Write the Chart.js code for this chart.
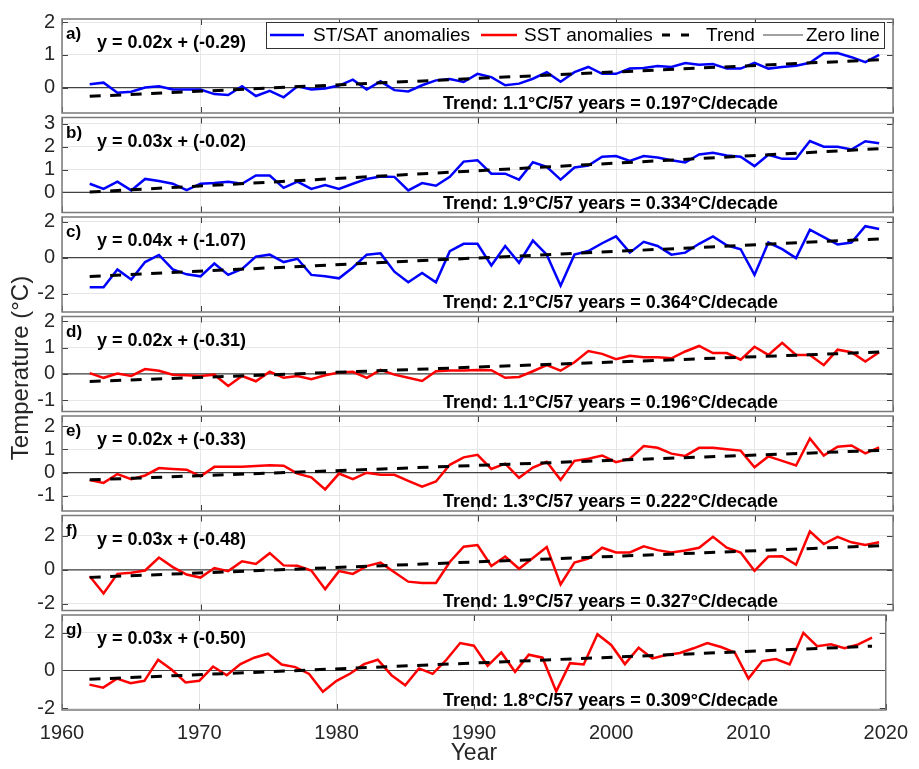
<!DOCTYPE html>
<html>
<head>
<meta charset="utf-8">
<title>Temperature anomalies</title>
<script src="https://cdn.jsdelivr.net/npm/chart.js@4.4.1/dist/chart.umd.min.js"></script>
<style>
  html, body { margin: 0; padding: 0; background: #ffffff; }
  #figure { position: relative; width: 919px; height: 769px; overflow: hidden; }
  #figure canvas { position: absolute; left: 0; top: 0; }
</style>
</head>
<body>
<div id="figure"></div>
<script>
// ---- data -------------------------------------------------------------
const years = [1962,1963,1964,1965,1966,1967,1968,1969,1970,1971,
               1972,1973,1974,1975,1976,1977,1978,1979,1980,1981,
               1982,1983,1984,1985,1986,1987,1988,1989,1990,1991,
               1992,1993,1994,1995,1996,1997,1998,1999,2000,2001,
               2002,2003,2004,2005,2006,2007,2008,2009,2010,2011,
               2012,2013,2014,2015,2016,2017,2018,2019];

// ST/SAT anomalies (panels a-c)
const seriesA = [0.10,0.15,-0.16,-0.13,0.00,0.04,-0.06,-0.06,-0.06,-0.20,
                 -0.23,0.04,-0.26,-0.10,-0.30,0.04,-0.06,-0.03,0.06,0.24,
                 -0.06,0.19,-0.08,-0.12,0.07,0.22,0.26,0.17,0.42,0.32,
                 0.07,0.12,0.27,0.47,0.18,0.47,0.63,0.42,0.42,0.58,
                 0.60,0.66,0.63,0.75,0.70,0.72,0.58,0.58,0.76,0.58,
                 0.63,0.67,0.76,1.05,1.06,0.93,0.78,1.00];
const seriesB = [0.38,0.15,0.47,0.09,0.59,0.50,0.38,0.10,0.38,0.41,
                 0.47,0.38,0.74,0.74,0.20,0.47,0.15,0.32,0.15,0.38,
                 0.59,0.70,0.68,0.09,0.41,0.29,0.68,1.35,1.41,0.82,
                 0.82,0.56,1.32,1.12,0.56,1.09,1.18,1.56,1.59,1.38,
                 1.59,1.53,1.41,1.31,1.66,1.74,1.62,1.56,1.15,1.65,
                 1.47,1.47,2.25,2.00,2.00,1.88,2.24,2.15];
const seriesC = [-1.63,-1.63,-0.65,-1.21,-0.24,0.15,-0.65,-0.92,-1.03,-0.32,
                 -0.95,-0.62,0.06,0.17,-0.24,-0.06,-0.95,-1.03,-1.14,-0.54,
                 0.17,0.24,-0.77,-1.36,-0.84,-1.36,0.36,0.77,0.77,-0.43,
                 0.65,-0.28,0.95,0.17,-1.55,0.17,0.37,0.80,1.18,0.28,
                 0.88,0.65,0.17,0.28,0.77,1.18,0.69,0.47,-0.95,0.84,
                 0.47,-0.02,1.55,1.14,0.73,0.84,1.74,1.59];
// SST anomalies (panels d-g)
const seriesD = [0.03,-0.15,0.01,-0.08,0.18,0.12,-0.03,-0.05,-0.08,-0.03,
                 -0.46,-0.08,-0.28,0.08,-0.15,-0.08,-0.20,-0.05,0.05,0.08,
                 -0.15,0.15,-0.03,-0.15,-0.27,0.10,0.13,0.13,0.15,0.14,
                 -0.15,-0.12,0.10,0.33,0.12,0.44,0.87,0.76,0.56,0.69,
                 0.63,0.63,0.59,0.85,1.06,0.79,0.79,0.54,1.03,0.72,
                 1.18,0.72,0.72,0.33,0.92,0.82,0.47,0.82];
const seriesE = [-0.32,-0.44,-0.06,-0.28,-0.12,0.20,0.16,0.13,-0.16,0.25,
                 0.25,0.25,0.29,0.32,0.30,-0.04,-0.20,-0.72,-0.04,-0.28,
                 0.00,-0.09,-0.09,-0.35,-0.60,-0.38,0.34,0.66,0.77,0.16,
                 0.39,-0.22,0.22,0.47,-0.31,0.51,0.60,0.74,0.45,0.60,
                 1.15,1.07,0.82,0.72,1.07,1.07,1.01,0.95,0.23,0.70,
                 0.51,0.31,1.47,0.74,1.12,1.17,0.83,1.09];
const seriesF = [-0.38,-1.40,-0.24,-0.18,-0.04,0.72,0.16,-0.28,-0.46,0.10,
                 -0.08,0.50,0.34,0.98,0.26,0.24,-0.04,-1.14,-0.08,-0.24,
                 0.22,0.42,-0.14,-0.70,-0.78,-0.78,0.46,1.36,1.46,0.22,
                 0.78,0.06,0.70,1.34,-0.86,0.42,0.66,1.30,1.02,1.02,
                 1.38,1.16,1.02,1.14,1.30,1.94,1.30,1.02,-0.06,0.78,
                 0.80,0.30,2.26,1.52,1.94,1.62,1.46,1.62];
const seriesG = [-0.75,-0.91,-0.43,-0.68,-0.55,0.57,0.04,-0.64,-0.55,0.21,
                 -0.25,0.34,0.68,0.89,0.32,0.18,-0.18,-1.13,-0.55,-0.16,
                 0.34,0.57,-0.25,-0.79,0.11,-0.18,0.57,1.46,1.32,0.25,
                 0.96,-0.07,0.84,0.68,-1.11,0.39,0.32,1.93,1.36,0.34,
                 1.21,0.64,0.82,0.93,1.18,1.46,1.25,0.96,-0.43,0.50,
                 0.61,0.32,2.00,1.29,1.39,1.18,1.39,1.75];

// linear fits: y = slope * x + intercept, x = 1 for the first year
const trendPerDecade = [0.197, 0.334, 0.364, 0.196, 0.222, 0.327, 0.309];
const trendIntercept = [-0.29, -0.02, -1.07, -0.31, -0.33, -0.48, -0.50];
const slopeLabel     = ['0.02', '0.03', '0.04', '0.02', '0.02', '0.03', '0.03'];
const totalChange    = [1.1, 1.9, 2.1, 1.1, 1.3, 1.9, 1.8];

const panelLetters = ['a)', 'b)', 'c)', 'd)', 'e)', 'f)', 'g)'];
const yMinValues = [-0.78, -0.88, -3.0, -1.43, -1.65, -2.4, -2.1];
const yMaxValues = [2.1, 3.28, 2.25, 2.18, 2.44, 3.2, 2.95];
const yTickValues = [[0,1,2], [0,1,2,3], [-2,0,2], [-1,0,1,2], [-1,0,1,2], [-2,0,2], [-2,0,2]];
const xTickValues = [1960, 1970, 1980, 1990, 2000, 2010, 2020];

// ---- layout & style ---------------------------------------------------
const W = 919, H = 769;
const PLOT_LEFT = 62, PLOT_RIGHT = 893;
const FIRST_TOP = 18, PANEL_STEP = 99.5, PANEL_H = 95;
const FONT = "'Liberation Sans', Arial, Helvetica, sans-serif";
const BLUE = '#0000ff', RED = '#ff0000';
const TEXT = '#262626';

const allSeries = [seriesA, seriesB, seriesC, seriesD, seriesE, seriesF, seriesG];
const seriesColor = [BLUE, BLUE, BLUE, RED, RED, RED, RED];

const figure = document.getElementById('figure');
const yearSpan = years[years.length - 1] - years[0];

function trendPoints(i) {
  const slope = trendPerDecade[i] / 10;
  const ends = [years[0], years[years.length - 1]];
  return ends.map(yr => ({ x: yr, y: slope * (yr - years[0] + 1) + trendIntercept[i] }));
}

function drawLegend(ctx) {
  const left = 266, right = 884, top = 22, bottom = 48, mid = (top + bottom) / 2;
  ctx.save();
  ctx.fillStyle = '#ffffff';
  ctx.fillRect(left, top, right - left, bottom - top);
  ctx.strokeStyle = '#333333';
  ctx.lineWidth = 1;
  ctx.strokeRect(left + 0.5, top + 0.5, right - left, bottom - top);
  const sample = (x0, x1, color, width, dash) => {
    ctx.beginPath();
    ctx.setLineDash(dash || []);
    ctx.strokeStyle = color;
    ctx.lineWidth = width;
    ctx.moveTo(x0, mid); ctx.lineTo(x1, mid);
    ctx.stroke();
    ctx.setLineDash([]);
  };
  sample(270, 304, BLUE, 2.5);
  sample(481, 517, RED, 2.5);
  sample(662, 692, '#000000', 3, [8, 11]);
  sample(763, 803, '#808080', 1.5);
  ctx.fillStyle = '#000000';
  ctx.font = '19px ' + FONT;
  ctx.textBaseline = 'middle';
  ctx.textAlign = 'left';
  ctx.fillText('ST/SAT anomalies', 313, mid + 1);
  ctx.fillText('SST anomalies', 524, mid + 1);
  ctx.fillText('Trend', 706, mid + 1);
  ctx.fillText('Zero line', 806, mid + 1);
  ctx.restore();
}

function makePanel(i) {
  const isLast = i === allSeries.length - 1;
  const top = FIRST_TOP + PANEL_STEP * i;
  const bottom = top + PANEL_H;

  const canvas = document.createElement('canvas');
  canvas.width = W; canvas.height = H;
  canvas.style.width = W + 'px'; canvas.style.height = H + 'px';
  figure.appendChild(canvas);

  const decorations = {
    id: 'panelDecorations' + i,
    afterDatasetsDraw(chart) {
      const { ctx, chartArea: a, scales } = chart;
      ctx.save();
      // inward tick marks
      ctx.strokeStyle = '#404040';
      ctx.lineWidth = 1;
      ctx.beginPath();
      scales.y.ticks.forEach(t => {
        const y = Math.round(scales.y.getPixelForValue(t.value)) + 0.5;
        ctx.moveTo(a.left, y); ctx.lineTo(a.left + 6, y);
        ctx.moveTo(a.right, y); ctx.lineTo(a.right - 6, y);
      });
      scales.x.ticks.forEach(t => {
        const x = Math.round(scales.x.getPixelForValue(t.value)) + 0.5;
        ctx.moveTo(x, a.top); ctx.lineTo(x, a.top + 6);
        ctx.moveTo(x, a.bottom); ctx.lineTo(x, a.bottom - 6);
      });
      ctx.stroke();
      // axes box
      ctx.strokeStyle = '#7a7a7a';
      ctx.lineWidth = 1.5;
      ctx.strokeRect(a.left, a.top, a.right - a.left, a.bottom - a.top);
      ctx.restore();
    },
    afterDraw(chart) {
      const { ctx, chartArea: a } = chart;
      ctx.save();
      ctx.fillStyle = '#000000';
      ctx.textAlign = 'left';
      ctx.textBaseline = 'alphabetic';
      ctx.font = 'bold 17px ' + FONT;
      ctx.fillText(panelLetters[i], a.left + 4, a.top + 20);
      ctx.font = 'bold 18px ' + FONT;
      ctx.fillText('y = ' + slopeLabel[i] + 'x + (' + trendIntercept[i].toFixed(2) + ')', 97, a.top + 29);
      ctx.fillText('Trend: ' + totalChange[i].toFixed(1) + '\u00B0C/' + yearSpan + ' years = ' +
                   trendPerDecade[i].toFixed(3) + '\u00B0C/decade', 443, a.bottom - 4);
      if (i === 0) drawLegend(ctx);
      if (isLast) {
        // shared y-axis title
        ctx.translate(21, 368);
        ctx.rotate(-Math.PI / 2);
        ctx.textAlign = 'center';
        ctx.textBaseline = 'middle';
        ctx.fillStyle = TEXT;
        ctx.font = '24px ' + FONT;
        ctx.fillText('Temperature (\u00B0C)', 0, 0);
      }
      ctx.restore();
    }
  };

  return new Chart(canvas, {
    type: 'line',
    data: {
      datasets: [
        {
          label: i < 3 ? 'ST/SAT anomalies' : 'SST anomalies',
          data: years.map((yr, k) => ({ x: yr, y: allSeries[i][k] })),
          borderColor: seriesColor[i],
          borderWidth: 2.5,
          pointRadius: 0,
          tension: 0,
          order: 2
        },
        {
          label: 'Trend',
          data: trendPoints(i),
          borderColor: '#000000',
          borderWidth: 3,
          borderDash: [11, 9.5],
          pointRadius: 0,
          order: 1
        },
        {
          label: 'Zero line',
          data: [{ x: xTickValues[0], y: 0 }, { x: xTickValues[xTickValues.length - 1], y: 0 }],
          borderColor: '#404040',
          borderWidth: 1.2,
          pointRadius: 0,
          order: 3
        }
      ]
    },
    options: {
      responsive: false,
      animation: false,
      devicePixelRatio: 1,
      events: [],
      layout: {
        padding: { left: 0, right: W - PLOT_RIGHT, top: top, bottom: isLast ? 0 : H - bottom }
      },
      plugins: { legend: { display: false }, tooltip: { enabled: false } },
      scales: {
        x: {
          type: 'linear',
          min: xTickValues[0],
          max: xTickValues[xTickValues.length - 1],
          afterBuildTicks: s => { s.ticks = xTickValues.map(v => ({ value: v })); },
          afterFit: s => { s.height = isLast ? H - bottom : 0; },
          grid: { color: '#e6e6e6', lineWidth: 1, drawTicks: false },
          border: { display: false },
          ticks: {
            display: isLast,
            autoSkip: false,
            maxRotation: 0,
            padding: 11,
            color: TEXT,
            font: { family: FONT, size: 20 },
            callback: v => String(v)
          },
          title: {
            display: isLast,
            text: 'Year',
            color: TEXT,
            font: { family: FONT, size: 23 },
            padding: { top: 0, bottom: 2 }
          }
        },
        y: {
          type: 'linear',
          min: yMinValues[i],
          max: yMaxValues[i],
          afterBuildTicks: s => { s.ticks = yTickValues[i].map(v => ({ value: v })); },
          afterFit: s => { s.width = PLOT_LEFT; },
          grid: { color: '#e6e6e6', lineWidth: 1, drawTicks: false },
          border: { display: false },
          ticks: {
            padding: 7,
            color: TEXT,
            font: { family: FONT, size: 20 },
            callback: v => String(v)
          }
        }
      }
    },
    plugins: [decorations]
  });
}

allSeries.forEach((_, i) => makePanel(i));
</script>
</body>
</html>
